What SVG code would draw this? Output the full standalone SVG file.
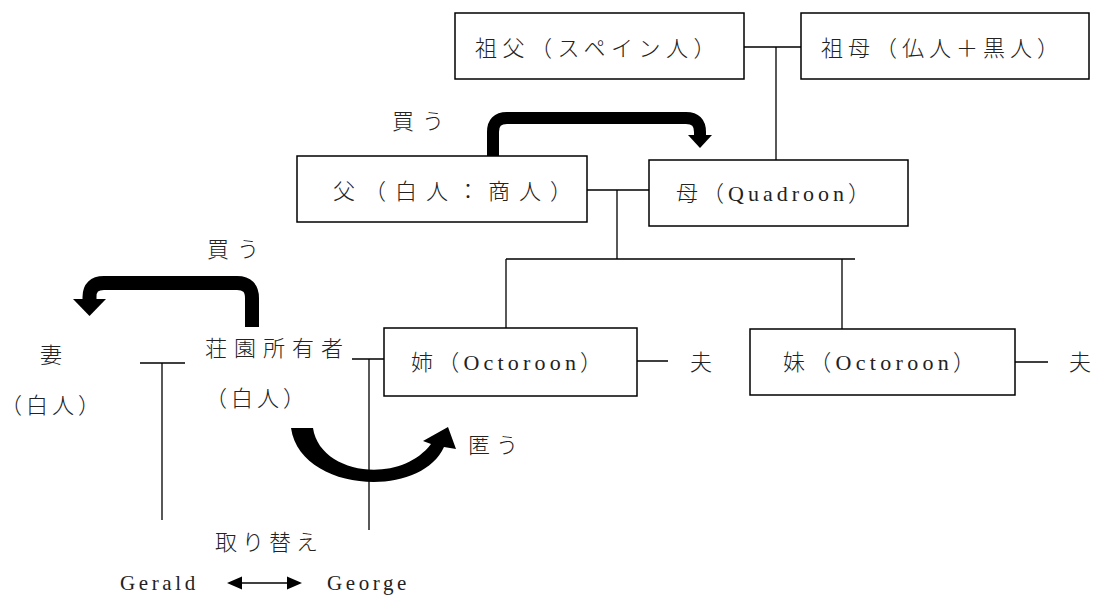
<svg xmlns="http://www.w3.org/2000/svg" width="1096" height="597" viewBox="0 0 1096 597">
<style>
.box{fill:#fff;stroke:#000;stroke-width:1.5}
.ln{fill:none;stroke:#000;stroke-width:1.3}
.t{font-family:"Liberation Serif","Noto Sans CJK JP",serif;font-size:22px;font-weight:300;fill:#222}
.lat{font-family:"Liberation Serif","Noto Sans CJK JP",serif;font-size:21px;fill:#222}
.thick{fill:none;stroke:#000;stroke-linejoin:round}
</style>
<rect width="1096" height="597" fill="#fff"/>
<g id="connectors">
<path class="ln" d="M744 47H801M776 47V161"/>
<path class="ln" d="M587 190H649M617 190V259M506 259H855M506 259V328M842 259V329"/>
<path class="ln" d="M637 361H668M1015 362H1048"/>
<path class="ln" d="M140 363H185M162 363V520"/>
<path class="ln" d="M352 359H384M369 359V530"/>
<path class="thick" stroke-width="12" d="M493 160V132Q493 118 507 118H686Q700 118 700 132V137"/>
<polygon points="688,135 712,135 700,148" fill="#000"/>
<path class="thick" stroke-width="14" d="M252 327V298Q252 283 237 283H104Q89.5 283 89.5 297V301"/>
<polygon points="73,299 106,299 89.5,316" fill="#000"/>
<path d="M291 428C300 492 420 500 444 447L456 449L448 427L423 441L431 444C400 485 320 475 313 428Z" fill="#000"/>
<path class="ln" d="M240 583H289"/>
<polygon points="227,583 242,576.5 242,589.5" fill="#000"/>
<polygon points="302,583 287,576.5 287,589.5" fill="#000"/>
</g>
<g id="grandfather"><rect class="box" x="455" y="13" width="289" height="66"/><text class="t" x="475" y="56" letter-spacing="5.5">祖父（スペイン人）</text></g>
<g id="grandmother"><rect class="box" x="801" y="13" width="288" height="66"/><text class="t" x="821" y="56" letter-spacing="5">祖母（仏人＋黒人）</text></g>
<g id="father"><rect class="box" x="297" y="156" width="290" height="66"/><text class="t" x="333" y="199" letter-spacing="9">父（白人：商人）</text></g>
<g id="mother"><rect class="box" x="649" y="160" width="259" height="66"/><text class="t" x="676" y="201" letter-spacing="4">母（Quadroon）</text></g>
<g id="elder-sister"><rect class="box" x="384" y="328" width="253" height="68"/><text class="t" x="411" y="370" letter-spacing="4.2">姉（Octoroon）</text></g>
<g id="younger-sister"><rect class="box" x="750" y="329" width="265" height="66"/><text class="t" x="783" y="370" letter-spacing="4.3">妹（Octoroon）</text></g>
<g id="husband1"><text class="t" x="690" y="370">夫</text></g>
<g id="husband2"><text class="t" x="1069" y="370">夫</text></g>
<g id="owner"><text class="t" x="205" y="356" letter-spacing="7">荘園所有者</text><text class="t" x="205" y="406" letter-spacing="4">（白人）</text></g>
<g id="wife"><text class="t" x="40" y="363">妻</text><text class="t" x="0" y="413" letter-spacing="4">（白人）</text></g>
<g id="labels">
<text class="t" x="392" y="129" letter-spacing="8">買う</text>
<text class="t" x="207" y="257" letter-spacing="8">買う</text>
<text class="t" x="468" y="453" letter-spacing="6">匿う</text>
<text class="t" x="215" y="550" letter-spacing="5">取り替え</text>
<text class="lat" x="120" y="590" letter-spacing="3.6">Gerald</text>
<text class="lat" x="327" y="590" letter-spacing="3.6">George</text>
</g>
</svg>
